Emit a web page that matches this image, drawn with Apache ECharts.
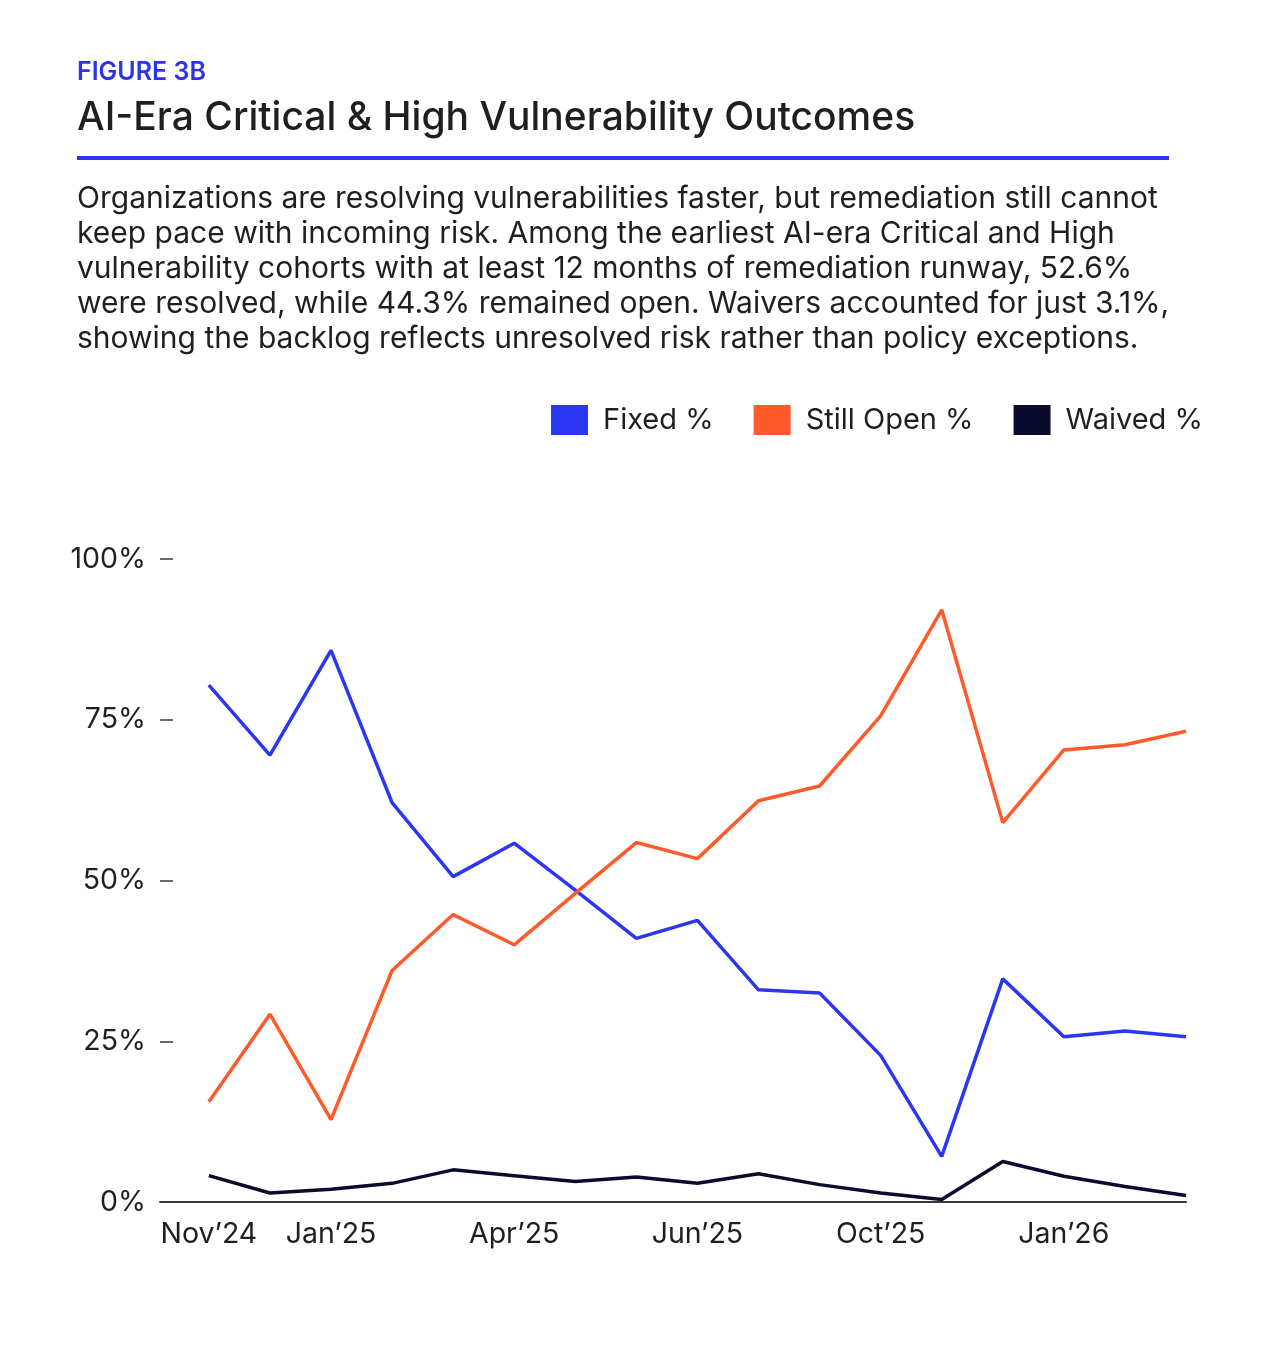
<!DOCTYPE html>
<html>
<head>
<meta charset="utf-8">
<title>Figure 3B</title>
<script src="https://cdn.jsdelivr.net/npm/echarts@6/dist/echarts.min.js"></script>
<style>
  html, body { margin: 0; padding: 0; background: #fff; }
  #container { width: 1263px; height: 1370px; }
</style>
</head>
<body>
<div id="container"></div>
<script>
// 17 monthly cohorts, x = cohort index
var cohortIdx = [0, 1, 2, 3, 4, 5, 6, 7, 8, 9, 10, 11, 12, 13, 14, 15, 16];

// x tick labels as printed on the figure, and where they sit
var tickIdx = [0, 2, 5, 8, 11, 14];
var tickLabels = ["Nov’24", "Jan’25", "Apr’25", "Jun’25", "Oct’25", "Jan’26"];

var fixedPct = [80.4, 69.5, 85.8, 62.1, 50.6, 55.8, 48.5, 41.0, 43.8, 33.0, 32.5, 22.8, 7.1, 34.7, 25.7, 26.6, 25.7];
var openPct  = [15.6, 29.2, 12.8, 36.0, 44.7, 40.0, 48.0, 55.9, 53.4, 62.4, 64.7, 75.6, 92.1, 59.0, 70.3, 71.1, 73.2];
var waivedPct = [4.1, 1.4, 2.0, 2.9, 5.0, 4.1, 3.2, 3.9, 2.9, 4.4, 2.7, 1.4, 0.4, 6.3, 4.0, 2.4, 1.0];

var yTicks = [0, 25, 50, 75, 100];

var FONT = 'Inter, "Noto Sans", sans-serif';
var TEXT = '#1f1f1f';

function pairs(arr) {
    return arr.map(function (v, i) { return [cohortIdx[i], v]; });
}

var subtitle = [
    'Organizations are resolving vulnerabilities faster, but remediation still cannot',
    'keep pace with incoming risk. Among the earliest AI-era Critical and High',
    'vulnerability cohorts with at least 12 months of remediation runway, 52.6%',
    'were resolved, while 44.3% remained open. Waivers accounted for just 3.1%,',
    'showing the backlog reflects unresolved risk rather than policy exceptions.'
].join('\n');

var dom = document.getElementById('container');
var myChart = echarts.init(dom, null, { renderer: 'canvas' });

var option = {
    backgroundColor: '#fff',
    animation: false,
    textStyle: { fontFamily: FONT },
    title: [{
        text: 'FIGURE 3B',
        left: 77, top: 60, padding: 0,
        textStyle: { fontFamily: FONT, fontSize: 25, fontWeight: 600, color: '#2B33EE' }
    }, {
        text: 'AI-Era Critical & High Vulnerability Outcomes',
        left: 77, top: 99, padding: 0,
        textStyle: { fontFamily: FONT, fontSize: 39, fontWeight: 500, color: TEXT }
    }, {
        text: subtitle,
        left: 77, top: 181, padding: 0,
        textStyle: { fontFamily: FONT, fontSize: 30, fontWeight: 400, color: TEXT, lineHeight: 35 }
    }],
    graphic: [{
        type: 'rect',
        shape: { x: 77, y: 156, width: 1092, height: 4 },
        style: { fill: '#2B33EE' }
    }],
    legend: {
        right: 60, top: 405, padding: 0,
        itemWidth: 37, itemHeight: 30, itemGap: 40,
        icon: 'rect',
        textStyle: { fontFamily: FONT, fontSize: 29, color: TEXT, padding: [0, 0, 0, 10] },
        data: ['Fixed %', 'Still Open %', 'Waived %']
    },
    grid: { left: 160, right: 77, top: 559, bottom: 168 },
    xAxis: {
        type: 'value',
        min: -0.8, max: 16,
        axisLine: { show: true, onZero: false, lineStyle: { color: '#3a3a3a', width: 2 } },
        axisTick: { show: false },
        splitLine: { show: false },
        axisLabel: {
            customValues: tickIdx,
            margin: 18,
            fontFamily: FONT, fontSize: 28.5, color: TEXT,
            formatter: function (v) {
                var k = tickIdx.indexOf(Math.round(v));
                return k >= 0 ? tickLabels[k] : '';
            }
        }
    },
    yAxis: {
        type: 'value',
        min: 0, max: 100, interval: 25,
        axisLine: { show: false, onZero: false },
        axisTick: { show: true, inside: true, length: 13, lineStyle: { color: '#3a3a3a', width: 1.5 } },
        splitLine: { show: false },
        axisLabel: {
            margin: 14,
            fontFamily: FONT, fontSize: 28.5, color: TEXT,
            formatter: function (v) { return yTicks.indexOf(v) >= 0 ? v + '%' : ''; }
        }
    },
    series: [{
        name: 'Fixed %',
        type: 'line',
        data: pairs(fixedPct),
        showSymbol: false,
        itemStyle: { color: '#2B36F0' },
        lineStyle: { width: 3.5, color: '#2B36F0' }
    }, {
        name: 'Still Open %',
        type: 'line',
        data: pairs(openPct),
        showSymbol: false,
        itemStyle: { color: '#FF5A2B' },
        lineStyle: { width: 3.5, color: '#FF5A2B' }
    }, {
        name: 'Waived %',
        type: 'line',
        data: pairs(waivedPct),
        showSymbol: false,
        itemStyle: { color: '#0B0B2E' },
        lineStyle: { width: 3.5, color: '#0B0B2E' }
    }]
};

if (option && typeof option === "object") {
    myChart.setOption(option, true);
}
</script>
</body>
</html>
